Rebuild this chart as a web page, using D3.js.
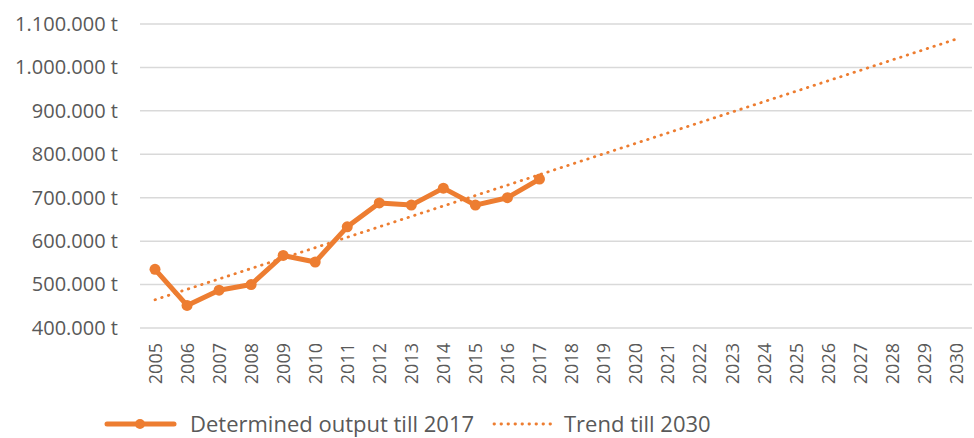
<!DOCTYPE html>
<head>
<meta charset="utf-8">
<style>
body { margin: 0; background: #fff; }
text { font-family: "Open Sans", sans-serif; fill: #595959; }
.grid line { stroke: #d9d9d9; stroke-width: 1.5; }
</style>
<script src="https://cdn.jsdelivr.net/npm/d3@7"></script>
</head>
<body>
<div id="chart"></div>
<script>

// data
var years = d3.range(2005, 2031).map(String);
var outputYears = ["2005","2006","2007","2008","2009","2010","2011","2012","2013","2014","2015","2016","2017"];
var outputValues = [535000, 452000, 487000, 500000, 567000, 552000, 633000, 688000, 683000, 722000, 683000, 700000, 743000];
var trendYears = ["2005", "2030"];
var trendValues = [465000, 1065000];
var yTicks = [400000, 500000, 600000, 700000, 800000, 900000, 1000000, 1100000];

var width = 974, height = 438;
var margin = {top: 24, right: 2, bottom: 110, left: 139};

var svg = d3.select("#chart").append("svg")
    .attr("width", width)
    .attr("height", height);

var x = d3.scalePoint().domain(years)
    .range([margin.left, width - margin.right]).padding(0.5);

var y = d3.scaleLinear().domain([400000, 1100000])
    .range([height - margin.bottom, margin.top]);

var fmt = function(d) { return d3.format(",")(d).replace(/,/g, ".") + " t"; };

// gridlines
svg.append("g").attr("class", "grid")
  .selectAll("line").data(yTicks)
  .enter().append("line")
    .attr("x1", margin.left + 1).attr("x2", width - 2)
    .attr("y1", function(d) { return y(d); })
    .attr("y2", function(d) { return y(d); });

// y axis labels
var yAxis = svg.append("g")
    .attr("transform", "translate(" + (margin.left - 21) + ",0)")
    .call(d3.axisLeft(y).tickValues(yTicks).tickFormat(fmt).tickSize(0).tickPadding(0));
yAxis.select(".domain").remove();
yAxis.selectAll("text").style("font-size", "20px").style("fill", "#595959").style("font-family", "Open Sans");

// x axis labels
var xAxis = svg.append("g")
    .attr("transform", "translate(0," + (y(400000) + 15) + ")")
    .call(d3.axisBottom(x).tickSize(0).tickPadding(0));
xAxis.select(".domain").remove();
xAxis.selectAll("text")
    .attr("transform", "rotate(-90)")
    .attr("x", 0).attr("y", 0).attr("dy", "0.35em")
    .style("text-anchor", "end")
    .style("font-size", "18px").style("fill", "#595959").style("font-family", "Open Sans");

var orange = "#ed7d31";

// trend
svg.append("path")
    .datum(trendYears.map(function(d, i) { return [d, trendValues[i]]; }))
    .attr("fill", "none")
    .attr("stroke", orange)
    .attr("stroke-width", 2.8)
    .attr("stroke-linecap", "round")
    .attr("stroke-dasharray", "0.5,6.5")
    .attr("d", d3.line().x(function(d) { return x(d[0]); }).y(function(d) { return y(d[1]); }));

// output line
var pts = outputYears.map(function(d, i) { return [d, outputValues[i]]; });
svg.append("path")
    .datum(pts)
    .attr("fill", "none")
    .attr("stroke", orange)
    .attr("stroke-width", 5)
    .attr("stroke-linejoin", "round")
    .attr("d", d3.line().x(function(d) { return x(d[0]); }).y(function(d) { return y(d[1]); }));

svg.selectAll(".dot")
  .data(pts)
  .enter().append("circle")
    .attr("cx", function(d) { return x(d[0]); })
    .attr("cy", function(d) { return y(d[1]); })
    .attr("r", 5.5)
    .attr("fill", orange);

// legend
var ly = 424;
var leg = svg.append("g");
leg.append("line").attr("x1", 107).attr("x2", 174).attr("y1", ly).attr("y2", ly)
    .attr("stroke", orange).attr("stroke-width", 5).attr("stroke-linecap", "round");
leg.append("circle").attr("cx", 140).attr("cy", ly).attr("r", 5).attr("fill", orange);
leg.append("text").attr("x", 190).attr("y", ly).attr("dy", "0.35em")
    .style("font-size", "22px").text("Determined output till 2017");
leg.append("line").attr("x1", 494).attr("x2", 555).attr("y1", ly).attr("y2", ly)
    .attr("stroke", orange).attr("stroke-width", 2.8).attr("stroke-linecap", "round")
    .attr("stroke-dasharray", "0.5,6.5");
leg.append("text").attr("x", 564).attr("y", ly).attr("dy", "0.35em")
    .style("font-size", "22px").text("Trend till 2030");

</script>
</body>
